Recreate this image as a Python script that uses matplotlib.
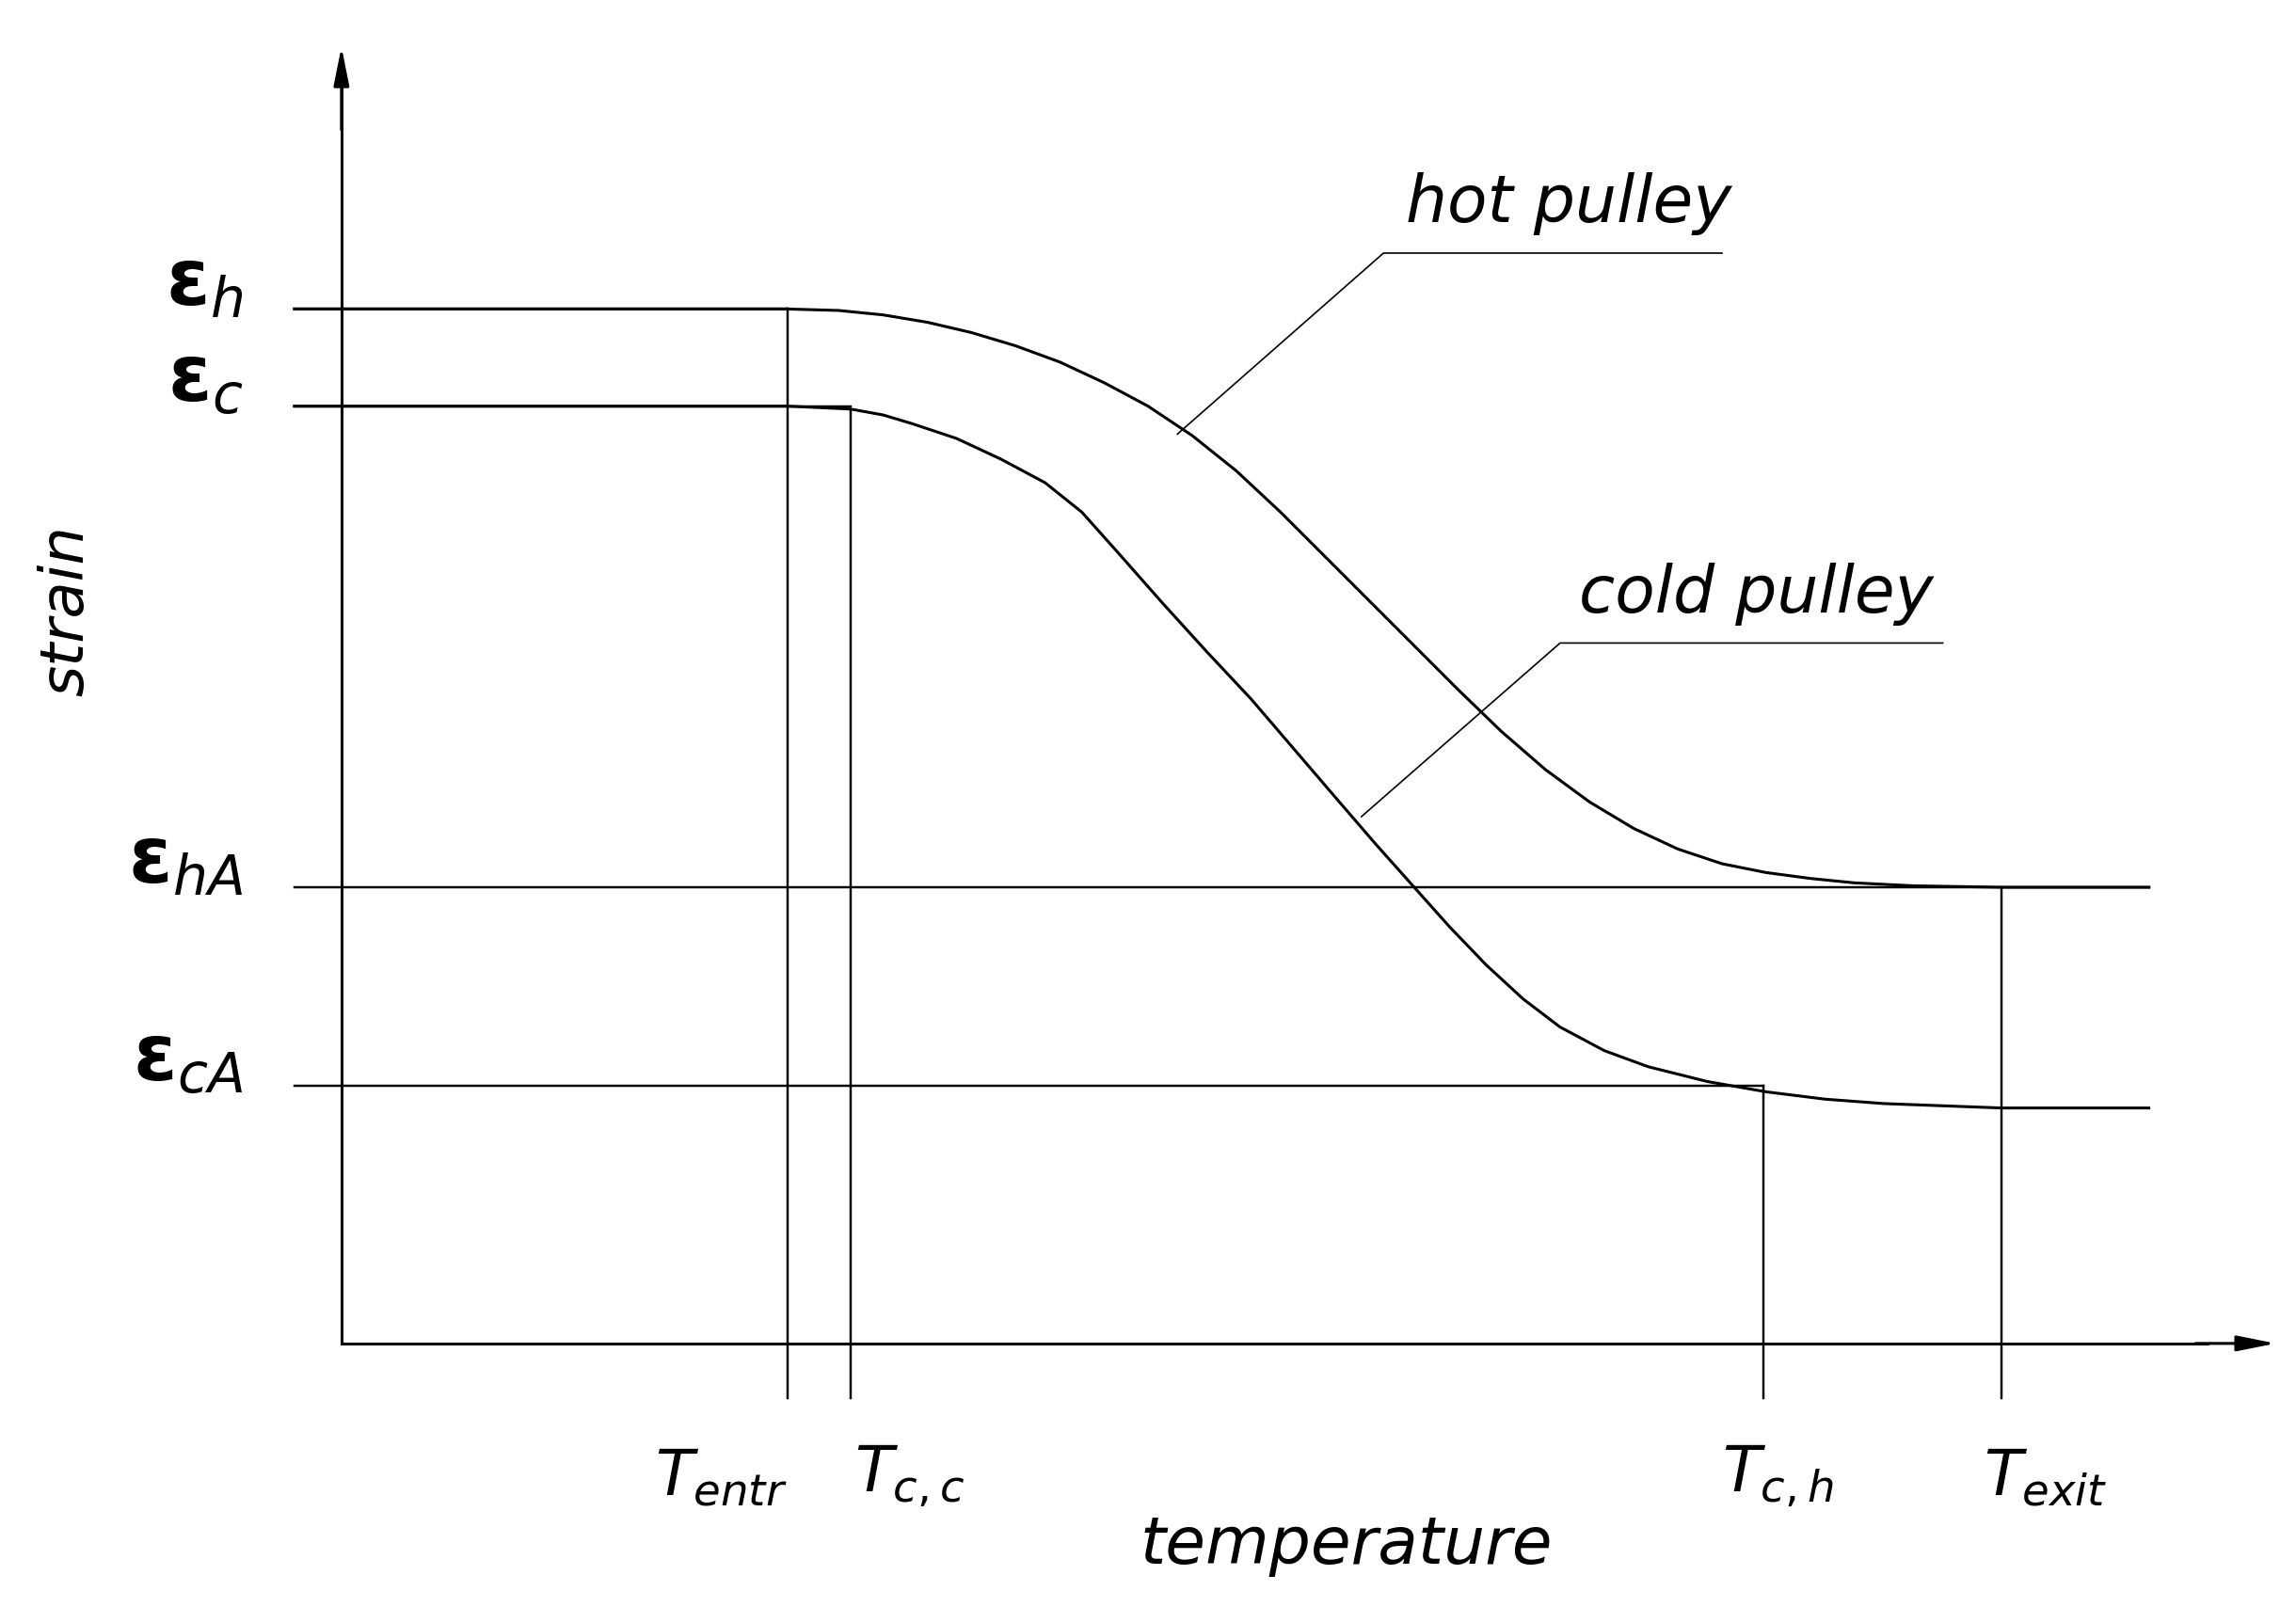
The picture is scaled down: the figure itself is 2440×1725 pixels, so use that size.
import matplotlib.pyplot as plt

# coordinates in a 1560 x 1103 drawing frame (y downward)
hot_x = [200, 535, 570, 600, 630, 660, 690, 720, 750, 780, 810, 840, 870, 900, 930, 960, 990, 1020, 1050,
         1080, 1110, 1140, 1170, 1200, 1230, 1260, 1300, 1360, 1460]
hot_y = [210, 210, 211, 214, 219, 226, 235, 246, 260, 276, 296, 320, 348, 378, 408, 438, 468, 497, 523,
         545, 563, 577, 587, 593, 597, 600, 602, 603, 603]
cold_x = [200, 535, 578, 600, 620, 650, 680, 710, 735, 760, 790, 820, 850, 880, 910, 935, 960, 985, 1010,
          1035, 1060, 1090, 1120, 1160, 1200, 1240, 1280, 1360, 1460]
cold_y = [276, 276, 278, 282, 288, 298, 312, 328, 348, 376, 410, 443, 475, 510, 545, 574, 602, 630, 656,
          679, 698, 714, 725, 735, 742, 747, 750, 753, 753]

eps_labels = [r"$\boldsymbol{\varepsilon}_{h}$", r"$\boldsymbol{\varepsilon}_{c}$",
              r"$\boldsymbol{\varepsilon}_{hA}$", r"$\boldsymbol{\varepsilon}_{cA}$"]
eps_levels = [210, 276, 603, 738]
eps_ends = [535, 578, 1460, 1198]

t_labels = [r"$T_{entr}$", r"$T_{c,c}$", r"$T_{c,h}$", r"$T_{exit}$"]
t_pos = [535, 578, 1198, 1360]
t_tops = [210, 278, 738, 603]
t_shift = [-45, 40, 10, 30]

plt.rcParams["mathtext.fontset"] = "dejavusans"
fig = plt.figure(figsize=(24.4, 17.25), dpi=100)
ax = fig.add_axes([0, 0, 1, 1])
ax.set_xlim(0, 1560); ax.set_ylim(1103, 0); ax.axis("off")

lw = 2.2
ax.plot(hot_x, hot_y, color="black", lw=lw, solid_joinstyle="round")
ax.plot(cold_x, cold_y, color="black", lw=lw, solid_joinstyle="round")

# axes with arrows
ax.plot([232, 232], [913, 60], color="black", lw=lw)
ax.plot([232, 1500], [913, 913], color="black", lw=lw)
ax.annotate("", xy=(232, 30), xytext=(232, 90),
            arrowprops=dict(arrowstyle="-|>,head_width=0.5,head_length=2.5", color="black", lw=lw))
ax.annotate("", xy=(1548, 913), xytext=(1490, 913),
            arrowprops=dict(arrowstyle="-|>,head_width=0.5,head_length=2.5", color="black", lw=lw))

for lab, y, xe in zip(eps_labels, eps_levels, eps_ends):
    ax.plot([200, xe], [y, y], color="black", lw=lw * 0.8)
    ax.text(165, y + 8, lab, fontsize=60, ha="right", va="bottom")

for lab, x, yt, dx in zip(t_labels, t_pos, t_tops, t_shift):
    ax.plot([x, x], [yt, 950], color="black", lw=lw * 0.8)
    ax.text(x + dx, 1025, lab, fontsize=48, ha="center", va="bottom")

ax.text(45, 415, "strain", fontsize=46, rotation=90, ha="center", va="center", style="italic", fontweight="light")
ax.text(915, 1050, "temperature", fontsize=50, ha="center", va="center", style="italic", fontweight="light")

# leaders
ax.plot([800, 940, 1170], [295, 172, 172], color="black", lw=1.2)
ax.text(955, 160, "hot pulley", fontsize=50, style="italic", va="bottom")
ax.plot([925, 1060, 1320], [555, 437, 437], color="black", lw=1.2)
ax.text(1073, 425, "cold pulley", fontsize=50, style="italic", va="bottom")

fig.savefig("out.png", dpi=100, facecolor="white")
